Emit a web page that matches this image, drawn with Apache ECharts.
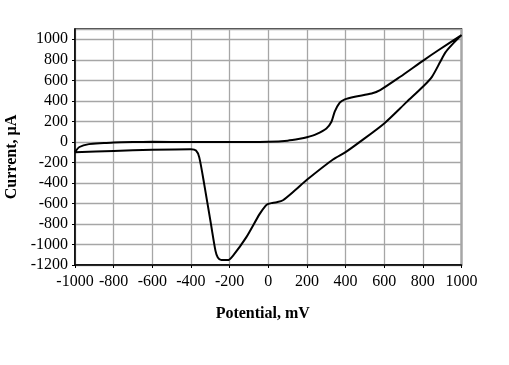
<!DOCTYPE html>
<html lang="en">
<head>
    <meta charset="UTF-8" />
    <title>Cyclic voltammogram</title>
    <script src="https://cdn.jsdelivr.net/npm/echarts@6/dist/echarts.min.js"></script>
    <style>
        html, body { margin: 0; padding: 0; background: #fff; }
    </style>
</head>
<body>
    <div id="chart" style="width: 509px; height: 365px"></div>
    <script>
        // forward scan (upper branch), -1000 -> 1000 mV
        var fwdPotential = [-1000, -977, -928, -850, -800, -700, -600, -400, -200, 0, 100, 163, 200, 249, 301, 327, 344, 370, 396, 448, 535, 579, 683, 800, 882, 1000];
        var fwdCurrent = [-100, -50, -22, -12, -6, -2, 0, -2, -2, 2, 12, 30, 45, 76, 131, 196, 294, 382, 414, 440, 472, 505, 635, 790, 895, 1040];

        // reverse scan (lower branch), 1000 -> -1000 mV
        var revPotential = [1000, 950, 916, 890, 847, 800, 717, 600, 474, 400, 335, 200, 140, 76, 44, 16, 0, -14, -45, -114, -183, -209, -243, -261, -273, -296, -331, -357, -374, -400, -600, -800, -1000];
        var revCurrent = [1040, 945, 870, 780, 634, 537, 390, 180, 0, -100, -172, -370, -470, -569, -588, -597, -605, -623, -704, -931, -1110, -1152, -1152, -1127, -1062, -807, -416, -151, -85, -73, -78, -88, -100];

        var loop = [];
        fwdPotential.forEach(function (p, i) { loop.push([p, fwdCurrent[i]]); });
        revPotential.forEach(function (p, i) { loop.push([p, revCurrent[i]]); });

        function plain(v) { return String(v); }

        var chart = echarts.init(document.getElementById("chart"));

        var option = {
            animation: false,
            textStyle: { fontFamily: "Liberation Serif", color: "#000" },
            grid: {
                left: 75, right: 47.5, top: 29, bottom: 100,
                outerBoundsMode: "none",
                containLabel: false,
                show: true, borderColor: "#000", borderWidth: 1.5
            },
            xAxis: {
                type: "value",
                min: -1000, max: 1000, interval: 200,
                name: "Potential, mV",
                nameLocation: "middle",
                nameGap: 41,
                nameTextStyle: { fontSize: 16, fontWeight: "bold", color: "#000", padding: [0, 11, 0, 0] },
                axisLine: { onZero: false, lineStyle: { color: "#000", width: 1.5 } },
                axisTick: { show: true, inside: false, length: 3, lineStyle: { color: "#000" } },
                axisLabel: { fontSize: 16, color: "#000", margin: 9, formatter: plain },
                splitLine: { show: true, lineStyle: { color: "#a6a6a6", width: 1.3 } }
            },
            yAxis: {
                type: "value",
                min: -1200, max: 1100, interval: 200,
                name: "Current, \u00b5A",
                nameLocation: "middle",
                nameGap: 50,
                nameTextStyle: { fontSize: 16, fontWeight: "bold", color: "#000", padding: [0, 20, 0, 0] },
                axisLine: { onZero: false, lineStyle: { color: "#000", width: 1.5 } },
                axisTick: { show: true, inside: false, length: 3, lineStyle: { color: "#000" } },
                axisLabel: { fontSize: 16, color: "#000", margin: 7, showMaxLabel: false, formatter: plain },
                splitLine: { show: true, lineStyle: { color: "#a6a6a6", width: 1.3 } }
            },
            series: [{
                type: "line",
                data: loop,
                smooth: 0.25,
                showSymbol: false,
                lineStyle: { color: "#000", width: 2 }
            }]
        };

        chart.setOption(option);
    </script>
</body>
</html>
